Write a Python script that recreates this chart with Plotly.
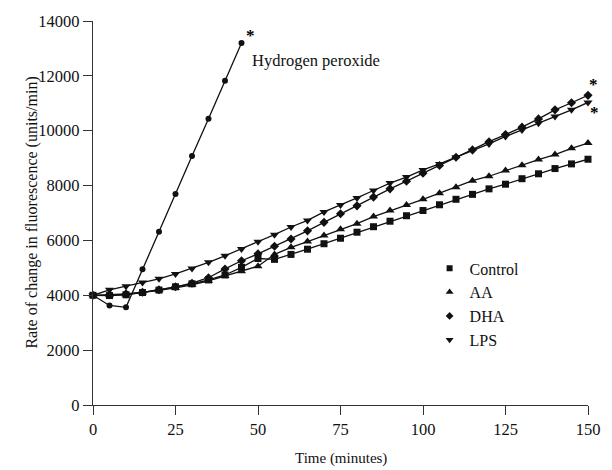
import plotly.graph_objects as go

time = list(range(0, 155, 5))
time_h2o2 = list(range(0, 50, 5))

control = [4000, 3990, 4020, 4100, 4190, 4310, 4420, 4560, 4740, 5020, 5340, 5310, 5490, 5680,
           5880, 6080, 6300, 6500, 6700, 6900, 7090, 7300, 7500, 7680, 7880, 8050, 8250, 8430,
           8620, 8790, 8960]
aa = [4000, 4000, 4030, 4100, 4180, 4270, 4380, 4530, 4700, 4880, 5060, 5490, 5750, 5960, 6180,
      6410, 6610, 6870, 7090, 7290, 7500, 7720, 7940, 8180, 8340, 8550, 8740, 8950, 9130, 9360,
      9550]
dha = [4000, 4030, 4050, 4110, 4200, 4310, 4440, 4640, 4960, 5260, 5510, 5790, 6050, 6350, 6660,
       6970, 7260, 7580, 7880, 8160, 8450, 8730, 9030, 9300, 9600, 9860, 10130, 10430, 10760,
       11020, 11290]
lps = [4000, 4200, 4330, 4470, 4600, 4780, 4980, 5200, 5440, 5690, 5950, 6210, 6490, 6730, 7040,
       7290, 7550, 7820, 8090, 8310, 8570, 8790, 9030, 9280, 9520, 9790, 10030, 10270, 10520,
       10760, 11030]
h2o2 = [4000, 3630, 3560, 4950, 6320, 7690, 9080, 10440, 11820, 13200]

series_names = ["Control", "AA", "DHA", "LPS"]
series_values = [control, aa, dha, lps]
symbols = ["square", "triangle-up", "diamond", "triangle-down"]
sizes = [7, 8, 7, 8]
legend_sizes = [6, 7, 6, 7]

x_ticks = [0, 25, 50, 75, 100, 125, 150]
y_ticks = [0, 2000, 4000, 6000, 8000, 10000, 12000, 14000]

FONT = "Liberation Serif"
INK = "#111111"
fig = go.Figure()

fig.add_trace(go.Scatter(x=time_h2o2, y=h2o2, mode="lines+markers",
                         line=dict(color=INK, width=1.3),
                         marker=dict(symbol="circle", size=6, color=INK),
                         showlegend=False, cliponaxis=False))

for name, vals, sym, sz in zip(series_names, series_values, symbols, sizes):
    fig.add_trace(go.Scatter(x=time, y=vals, mode="lines+markers",
                             line=dict(color=INK, width=1.3),
                             marker=dict(symbol=sym, size=sz, color=INK),
                             showlegend=False, cliponaxis=False))

for name, sym, sz in zip(series_names, symbols, legend_sizes):
    fig.add_trace(go.Scatter(x=[None], y=[None], mode="markers", name=name,
                             marker=dict(symbol=sym, size=sz, color=INK),
                             showlegend=True))

fig.add_annotation(x=time_h2o2[-1], y=h2o2[-1], text="Hydrogen peroxide", showarrow=False,
                   xanchor="left", yanchor="middle", xshift=8, yshift=-18,
                   font=dict(family=FONT, size=16.5, color=INK))
star_font = dict(family=FONT, size=17, color="black")
fig.add_annotation(x=time_h2o2[-1], y=h2o2[-1], text="<b>*</b>", showarrow=False,
                   xanchor="center", yanchor="middle", xshift=9, yshift=7, font=star_font)
fig.add_annotation(x=time[-1], y=dha[-1], text="<b>*</b>", showarrow=False,
                   xanchor="center", yanchor="middle", xshift=5, yshift=11, font=star_font)
fig.add_annotation(x=time[-1], y=lps[-1], text="<b>*</b>", showarrow=False,
                   xanchor="center", yanchor="middle", xshift=6, yshift=-10, font=star_font)

fig.add_annotation(xref="paper", yref="paper", x=-0.124, y=0.5,
                   text="Rate of change in fluorescence (units/min)", textangle=-90,
                   showarrow=False, xanchor="center", yanchor="middle",
                   font=dict(family=FONT, size=16, color=INK))
fig.add_annotation(xref="paper", yref="paper", x=0.5, y=-0.14,
                   text="Time (minutes)", showarrow=False, xanchor="center", yanchor="middle",
                   font=dict(family=FONT, size=15, color=INK))

axis_common = dict(showline=True, linecolor="#333", linewidth=1.3, ticks="outside",
                   ticklen=9, tickwidth=1.3, tickcolor="#333", showgrid=False, zeroline=False,
                   ticklabeloverflow="allow",
                   tickfont=dict(family=FONT, size=16.5, color=INK))

fig.update_xaxes(range=[0, 150], tickvals=x_ticks, ticktext=[str(v) for v in x_ticks],
                 **axis_common)
fig.update_yaxes(range=[0, 14000], tickvals=y_ticks, ticktext=[str(v) for v in y_ticks],
                 **axis_common)

fig.update_layout(
    width=612, height=470,
    margin=dict(l=93, r=12, t=21, b=65, pad=0),
    paper_bgcolor="white", plot_bgcolor="white",
    font=dict(family=FONT, size=14, color=INK),
    legend=dict(x=0.68, y=0.4, xanchor="left", yanchor="top",
                font=dict(family=FONT, size=16, color=INK),
                bgcolor="rgba(0,0,0,0)", tracegroupgap=0, itemwidth=30),
)

fig.write_html("out.html")
